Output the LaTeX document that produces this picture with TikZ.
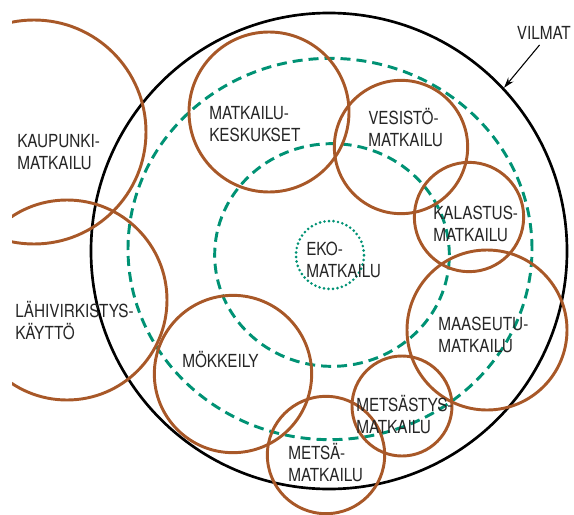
\documentclass[tikz,border=0pt]{standalone}
\usepackage{fontspec}
\setmainfont{TeX Gyre Heros}[FakeStretch=0.85]
\usetikzlibrary{arrows.meta,shapes.geometric}
\definecolor{ruskea}{RGB}{168,88,40}
\definecolor{vihrea}{RGB}{0,146,116}
\begin{document}
\begin{tikzpicture}[x=0.75pt, y=-0.75pt,
    ring/.style={circle, draw=ruskea, line width=2.2pt, inner sep=0pt},
    vyo/.style={ellipse, draw=vihrea, line width=2.2pt, inner sep=0pt,
      dash pattern=on 7.5pt off 4.5pt},
    label/.style={align=left, anchor=west, inner sep=0pt, text=black!85,
      font=\fontsize{13.5}{16.5}\selectfont}]
  \useasboundingbox (0,0) rectangle (574,514);

  % outer circle and the two zones
  \node [circle, draw, line width=2pt, minimum size=357pt] (vilmat) at (329,251) {};
  \node [vyo, minimum width=303pt, minimum height=286pt] (ulko) at (330,249) {};
  \node [vyo, minimum width=176pt, minimum height=167pt] (sisa) at (332,255) {};
  \node [circle, draw=vihrea, line width=2.2pt, line cap=round,
    dash pattern=on 0pt off 3.4pt, minimum size=51pt] (eko) at (330,255) {};

  \begin{scope}
    \clip (12,0) rectangle (574,514);
    \node [ring, minimum size=168pt] (kaupunki) at (34,132) {};
    \node [ring, minimum size=150pt] (lahi) at (67,300) {};
    \node [ring, minimum size=120pt] (keskus) at (269,112) {};
    \node [ring, minimum size=100pt] (vesisto) at (401,147) {};
    \node [ring, minimum size=82pt] (kalastus) at (469,217) {};
    \node [ring, minimum size=120pt] (maaseutu) at (487,330) {};
    \node [ring, minimum size=75pt] (metsastys) at (402,406) {};
    \node [ring, minimum size=88pt] (metsa) at (326,455) {};
    \node [ring, minimum size=118pt] (mokki) at (233,374) {};
  \end{scope}

  \begin{scope}[every node/.style={label}]
    \node (t-kaupunki) at (17,152) {KAUPUNKI-\\MATKAILU};
    \node (t-keskus) at (209,124) {MATKAILU-\\KESKUKSET};
    \node (t-vesisto) at (368,128) {VESISTÖ-\\MATKAILU};
    \node (t-kalastus) at (433,224) {KALASTUS-\\MATKAILU};
    \node (t-eko) at (306,260) {EKO-\\MATKAILU};
    \node (t-lahi) at (15,321) {LÄHIVIRKISTYS-\\KÄYTTÖ};
    \node (t-mokki) at (182,360) {MÖKKEILY};
    \node (t-maaseutu) at (438,335) {MAASEUTU-\\MATKAILU};
    \node (t-metsastys) at (356,415) {METSÄSTYS-\\MATKAILU};
    \node (t-metsa) at (288,463) {METSÄ-\\MATKAILU};
    \node [anchor=east] (t-vilmat) at (571,33) {VILMAT};
  \end{scope}

  \draw [-{Stealth[length=8pt,width=5pt]}, line width=0.8pt, shorten <=5pt]
    (t-vilmat.south) -- (vilmat.43);
\end{tikzpicture}
\end{document}
